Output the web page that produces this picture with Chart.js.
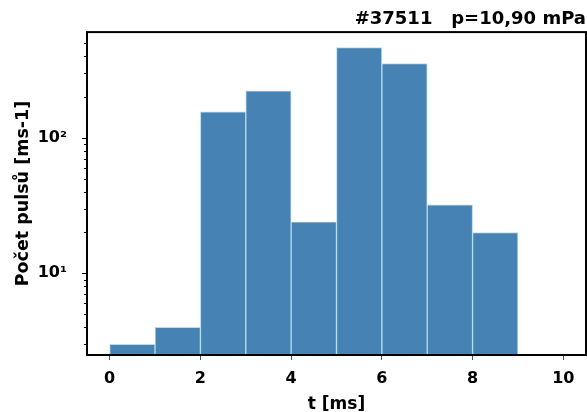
<!DOCTYPE html>
<html>
<head>
<meta charset="utf-8">
<script src="https://cdn.jsdelivr.net/npm/chart.js@4"></script>
<style>
html,body{margin:0;padding:0;background:#fff;}
#wrap{width:587px;height:412px;}
</style>
</head>
<body>
<div id="wrap"><canvas id="c" width="587" height="412"></canvas></div>
<script>
// Histogram data (bin start in ms, counts per bin)
const binStarts = [0, 1, 2, 3, 4, 5, 6, 7, 8];
const binWidth = 1;
const counts = [3, 4, 155, 221, 24, 461, 351, 32, 20];
const xTicks = [0, 2, 4, 6, 8, 10];
const yMajorTicks = [10, 100];
const yMajorLabels = ['10\u00B9', '10\u00B2'];
const yMinorTicks = [3, 4, 5, 6, 7, 8, 9, 20, 30, 40, 50, 60, 70, 80, 90, 200, 300, 400, 500];
const titleText = '#37511   p=10,90 mPa';
const xTitle = 't [ms]';
const yTitle = 'Počet pulsů [ms-1]';

const FONT = 'DejaVu Sans';

const points = binStarts.map((s, i) => ({x: s + binWidth / 2, y: counts[i]}));

const framePlugin = {
  id: 'frame',
  afterDraw(chart) {
    const {ctx, chartArea: a} = chart;
    const ys = chart.scales.y;
    ctx.save();
    ctx.strokeStyle = '#000';
    ctx.lineWidth = 1;
    yMinorTicks.forEach(v => {
      const py = Math.round(ys.getPixelForValue(v)) + 0.5;
      ctx.beginPath();
      ctx.moveTo(a.left - 3, py);
      ctx.lineTo(a.left, py);
      ctx.stroke();
    });
    yMajorTicks.forEach(v => {
      const py = Math.round(ys.getPixelForValue(v)) + 0.5;
      ctx.beginPath();
      ctx.moveTo(a.left - 5, py);
      ctx.lineTo(a.left, py);
      ctx.stroke();
    });
    ctx.lineWidth = 2;
    ctx.strokeRect(a.left, a.top, a.right - a.left, a.bottom - a.top);
    ctx.restore();
  }
};

new Chart(document.getElementById('c'), {
  type: 'bar',
  data: {
    datasets: [{
      data: points,
      backgroundColor: '#4682b4',
      borderColor: '#b3ddee',
      borderWidth: 1,
      borderSkipped: false,
      barPercentage: 1,
      categoryPercentage: 1,
      grouped: false
    }]
  },
  options: {
    responsive: false,
    animation: false,
    layout: {padding: {left: 0, right: 1, top: 0, bottom: 0}},
    plugins: {
      legend: {display: false},
      tooltip: {enabled: false},
      title: {
        display: true,
        text: titleText,
        align: 'end',
        color: '#000',
        font: {family: FONT, size: 18, weight: 'bold'},
        padding: {top: 8.5, bottom: 2}
      }
    },
    scales: {
      x: {
        type: 'linear',
        offset: false,
        min: -0.5,
        max: 10.5,
        afterBuildTicks(scale) { scale.ticks = xTicks.map(v => ({value: v})); },
        afterFit(scale) { scale.height = 57; },
        grid: {display: true, offset: false, drawOnChartArea: false, drawTicks: true, tickLength: 5, tickColor: '#555', tickWidth: 1},
        border: {display: false},
        ticks: {
          color: '#000',
          font: {family: FONT, size: 16, weight: 'bold'},
          padding: 9,
          maxRotation: 0,
          autoSkip: false,
          callback: v => String(v)
        },
        title: {
          display: true,
          text: xTitle,
          color: '#000',
          font: {family: FONT, size: 17, weight: 'bold'},
          padding: {top: 0, bottom: -3}
        }
      },
      y: {
        type: 'logarithmic',
        min: 2.5,
        max: 600,
        afterBuildTicks(scale) { scale.ticks = yMajorTicks.map(v => ({value: v, major: true})); },
        afterFit(scale) { scale.width = 87; },
        grid: {display: false},
        border: {display: false},
        ticks: {
          color: '#000',
          font: {family: FONT, size: 16, weight: 'bold'},
          padding: 12,
          autoSkip: false,
          callback: v => {
            const i = yMajorTicks.indexOf(v);
            return i >= 0 ? yMajorLabels[i] : '';
          }
        },
        title: {
          display: true,
          text: yTitle,
          color: '#000',
          font: {family: FONT, size: 17.5, weight: 'bold'},
          padding: {top: 12.8, bottom: 0}
        }
      }
    }
  },
  plugins: [framePlugin]
});
</script>
</body>
</html>
